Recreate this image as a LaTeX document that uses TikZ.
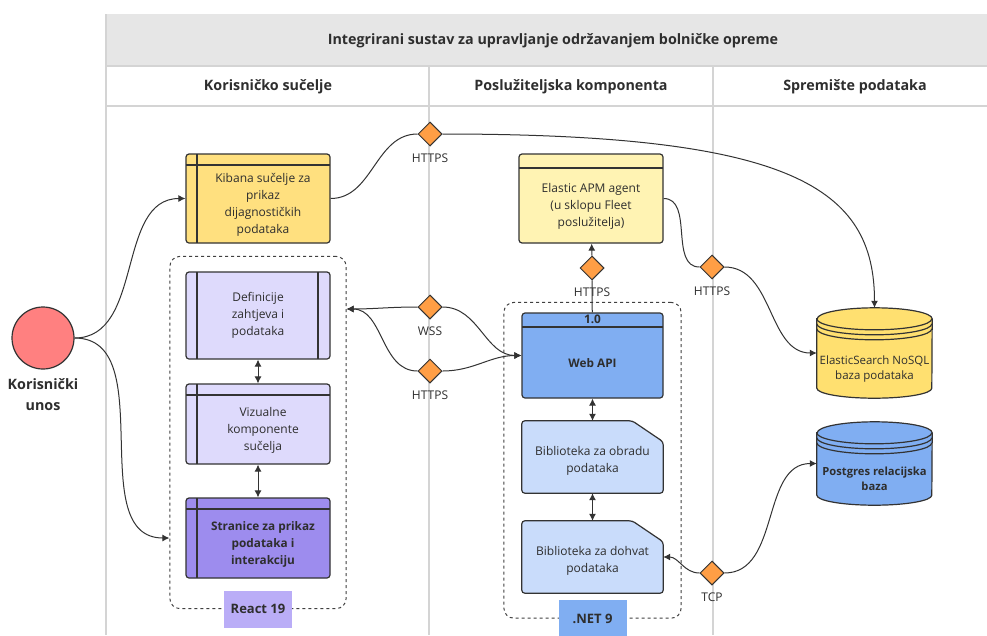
\documentclass[tikz,border=0pt]{standalone}
\usepackage{fontspec}
\setmainfont{Open Sans}
\usepackage{tikz}
\usetikzlibrary{fit,positioning,shapes.geometric,backgrounds,arrows.meta}

\definecolor{headGray}{HTML}{E6E6E6}
\definecolor{laneGray}{HTML}{D4D4D4}
\definecolor{textDark}{HTML}{2E2E2E}
\definecolor{userRed}{HTML}{FF8080}
\definecolor{kibanaYellow}{HTML}{FFE07F}
\definecolor{apmYellow}{HTML}{FFF3B3}
\definecolor{esYellow}{HTML}{FFE070}
\definecolor{defsLilac}{HTML}{DEDAFC}
\definecolor{pageViolet}{HTML}{9D8CEE}
\definecolor{reactPurple}{HTML}{BAADF7}
\definecolor{apiBlue}{HTML}{80AEF2}
\definecolor{libBlue}{HTML}{C9DCFB}
\definecolor{protoOrange}{HTML}{FF9E45}

% document page with a folded corner, drawn under a named node
\newcommand{\docpage}[2]{
  \filldraw[fill=#2, draw=black!80, line width=1.2pt, rounded corners=3pt]
    (#1.north west) -- ([xshift=-31pt]#1.north east) -- ([yshift=-21pt]#1.north east)
    -- (#1.south east) -- (#1.south west) -- cycle;}
% database drum, drawn under a named node
\newcommand{\dbdrum}[2]{
  \filldraw[fill=#2, draw=black!80, line width=1.2pt]
    ([yshift=-11pt]#1.north west) -- ([yshift=10pt]#1.south west)
    arc[start angle=180, end angle=360, x radius=57.5pt, y radius=10pt]
    -- ([yshift=-11pt]#1.north east)
    arc[start angle=0, end angle=180, x radius=57.5pt, y radius=11pt] -- cycle;
  \draw[black!80, line width=1.2pt] ([yshift=-11pt]#1.north west) arc[start angle=180, end angle=360, x radius=57.5pt, y radius=11pt];
  \draw[black!80, line width=1.2pt] ([yshift=-16pt]#1.north west) arc[start angle=180, end angle=360, x radius=57.5pt, y radius=11pt];
  \draw[black!80, line width=1.2pt] ([yshift=-21pt]#1.north west) arc[start angle=180, end angle=360, x radius=57.5pt, y radius=11pt];}

\begin{document}
\begin{tikzpicture}[x=1pt, y=1pt]
 	\tikzstyle{lane}=[draw=laneGray, line width=1.2pt]
 	\tikzstyle{head}=[font=\bfseries\fontsize{14.3}{17}\selectfont, text=textDark]
 	\tikzstyle{box}=[rectangle, rounded corners=3pt, draw=black!80, line width=1.2pt, minimum width=144pt]
 	\tikzstyle{txt}=[font=\fontsize{12}{17}\selectfont, align=center, text=textDark]
 	\tikzstyle{btxt}=[font=\bfseries\fontsize{11.8}{17}\selectfont, align=center, text=textDark]
 	\tikzstyle{lbl}=[font=\fontsize{12}{14}\selectfont, text=textDark, label distance=4pt]
 	\tikzstyle{proto}=[diamond, minimum size=24pt, inner sep=0pt, fill=protoOrange, draw=black!80, line width=1pt]
 	\tikzstyle{connect}=[-{Latex[length=7pt, width=7pt]}, line width=1pt, draw=black!80]
 	\tikzstyle{both}=[{Latex[length=7pt, width=7pt]}-{Latex[length=7pt, width=7pt]}, line width=1pt, draw=black!80]
 	\tikzstyle{framework}=[rectangle, rounded corners=10pt, draw=black!75, dashed, line width=1pt]
 	\tikzstyle{tag}=[rectangle, minimum width=68pt, minimum height=37pt, font=\bfseries\fontsize{13}{15}\selectfont, text=textDark]
 	\tikzstyle{hbar}=[path picture={\draw[black!80, line width=1.2pt]
 	  ([yshift=-11pt]path picture bounding box.north west) -- ([yshift=-11pt]path picture bounding box.north east)
 	  ([xshift=11pt]path picture bounding box.north west) -- ([xshift=11pt]path picture bounding box.south west);}]
 	\tikzstyle{twinbar}=[path picture={\draw[black!80, line width=1.2pt]
 	  ([xshift=11pt]path picture bounding box.north west) -- ([xshift=11pt]path picture bounding box.south west)
 	  ([xshift=-12pt]path picture bounding box.north east) -- ([xshift=-12pt]path picture bounding box.south east);}]
 	\tikzstyle{capbar}=[path picture={\draw[black!80, line width=1.2pt]
 	  ([yshift=-14pt]path picture bounding box.north west) -- ([yshift=-14pt]path picture bounding box.north east);}]

 	\useasboundingbox (0,0) rectangle (987,-635);

 	% lanes
 	\fill[headGray] (106,-14) rectangle (987,-66);
 	\draw[lane] (106,-66) -- (987,-66) (106,-106) -- (987,-106);
 	\draw[lane] (106,-14) -- (106,-635) (429,-66) -- (429,-635) (713,-66) -- (713,-635);
 	\node[head] (title) at (553,-41) {Integrirani sustav za upravljanje održavanjem bolničke opreme};
 	\node[head] (colui) at (268,-87) {Korisničko sučelje};
 	\node[head] (colsrv) at (571,-87) {Poslužiteljska komponenta};
 	\node[head] (coldb) at (855,-87) {Spremište podataka};

 	% nodes
 	\node[circle, minimum size=62pt, fill=userRed, draw=black!80, line width=1.2pt] (user) at (43,-338)
 	  [label={[font=\bfseries\fontsize{14.3}{21}\selectfont, align=center, text=textDark, label distance=5pt]below:{Korisnički\\unos}}] {};
 	\node[box, hbar, fill=kibanaYellow, minimum height=89pt] (kibana) at (258,-198.5)
 	  [label={[txt, xshift=5pt, yshift=-6pt]center:Kibana sučelje za\\prikaz\\dijagnostičkih\\podataka}] {};
 	\node[box, twinbar, fill=defsLilac, minimum height=87pt] (defs) at (258,-315.5)
 	  [label={[txt]center:Definicije\\zahtjeva i\\podataka}] {};
 	\node[box, hbar, fill=defsLilac, minimum height=80pt] (viz) at (258,-424)
 	  [label={[txt, xshift=5pt, yshift=-6pt]center:Vizualne\\komponente\\sučelja}] {};
 	\node[box, hbar, fill=pageViolet, minimum height=80pt] (stranice) at (258,-538)
 	  [label={[btxt, xshift=5pt, yshift=-6pt]center:Stranice za prikaz\\podataka i\\interakciju}] {};
 	\node[box, capbar, fill=apmYellow, minimum height=89pt] (apm) at (591,-198.5)
 	  [label={[txt, yshift=-8pt]center:Elastic APM agent\\(u sklopu Fleet\\poslužitelja)}] {};
 	\node[box, capbar, fill=apiBlue, minimum width=141pt, minimum height=85pt] (webapi) at (592.5,-355.5)
 	  [label={[btxt, yshift=-7.5pt]center:Web API}, label={[btxt, anchor=north, inner sep=0pt, yshift=-2.5pt]north:1.0}] {};
 	\node[rectangle, minimum width=141pt, minimum height=72pt] (obrada) at (592.5,-457)
 	  [label={[txt, yshift=-3.5pt]center:Biblioteka za obradu\\podataka}] {};
 	\node[rectangle, minimum width=141pt, minimum height=72pt] (dohvat) at (592.5,-557)
 	  [label={[txt, yshift=-3.5pt]center:Biblioteka za dohvat\\podataka}] {};
 	\node[rectangle, minimum width=115pt, minimum height=90pt] (es) at (874.5,-353)
 	  [label={[txt, font=\fontsize{11.5}{15}\selectfont, yshift=-16.5pt]center:ElasticSearch NoSQL\\baza podataka}] {};
 	\node[rectangle, minimum width=115pt, minimum height=83pt] (pg) at (874.5,-463.5)
 	  [label={[btxt, font=\bfseries\fontsize{11.2}{15}\selectfont, yshift=-15pt]center:Postgres relacijska\\baza}] {};
 	\begin{scope}[on background layer]
 	  \fill[white] (0,0) rectangle (987,-635);
 	  \docpage{obrada}{libBlue}
 	  \docpage{dohvat}{libBlue}
 	  \dbdrum{es}{esYellow}
 	  \dbdrum{pg}{apiBlue}
 	\end{scope}

 	% protocols
 	\node[proto] (httpsA) at (430,-134) [label={[lbl]below:HTTPS}] {};
 	\node[proto] (wss) at (430,-307) [label={[lbl]below:WSS}] {};
 	\node[proto] (httpsW) at (430,-371) [label={[lbl]below:HTTPS}] {};
 	\node[proto] (httpsB) at (592,-268) [label={[lbl]below:HTTPS}] {};
 	\node[proto] (httpsC) at (712,-267) [label={[lbl]below:HTTPS}] {};
 	\node[proto] (tcp) at (712,-573) [label={[lbl]below:TCP}] {};

 	% groups
 	\node[framework, fit=(defs)(stranice), inner xsep=15.5pt, inner ysep=22.5pt, yshift=-7.5pt] (react) {};
 	\node[tag, fill=reactPurple] (reactTag) at (react.south) {React 19};
 	\node[framework, fit=(webapi)(dohvat), inner xsep=17.5pt, inner ysep=17.5pt, yshift=-7.5pt] (dotnet) {};
 	\node[tag, fill=apiBlue] (netTag) at (dotnet.south) {.NET 9};
 	\coordinate (reactIn) at (react.west |- stranice.west);
 	\coordinate (wssTip) at ([yshift=6.5pt]react.east |- defs.east);

 	% connectors
 	\path (user) edge [connect, out=0, in=180] (kibana)
 	(user) edge [connect, out=0, in=180] (reactIn)
 	(kibana) edge [draw=black!80, line width=1pt, out=0, in=180] (httpsA)
 	(wss) edge [connect, out=180, in=0] (wssTip)
 	(httpsW) edge [connect, out=180, in=0] (wssTip)
 	(wss) edge [connect, out=0, in=180] (webapi)
 	(httpsW) edge [connect, out=0, in=180] (webapi)
 	(webapi) edge [draw=black!80, line width=1pt] (httpsB)
 	(httpsB) edge [connect] (apm)
 	(apm) edge [draw=black!80, line width=1pt, out=0, in=180] (httpsC)
 	(httpsC) edge [connect, out=0, in=180] (es)
 	(tcp) edge [connect, out=180, in=0] (dohvat)
 	(tcp) edge [connect, out=0, in=180] (pg)
 	(defs) edge [both] (viz)
 	(viz) edge [both] (stranice)
 	(webapi) edge [both] (obrada)
 	(obrada) edge [both] (dohvat);
 	\draw[connect] (httpsA.east) .. controls +(350,0) and +(0,120) .. (es.north);
\end{tikzpicture}
\end{document}
